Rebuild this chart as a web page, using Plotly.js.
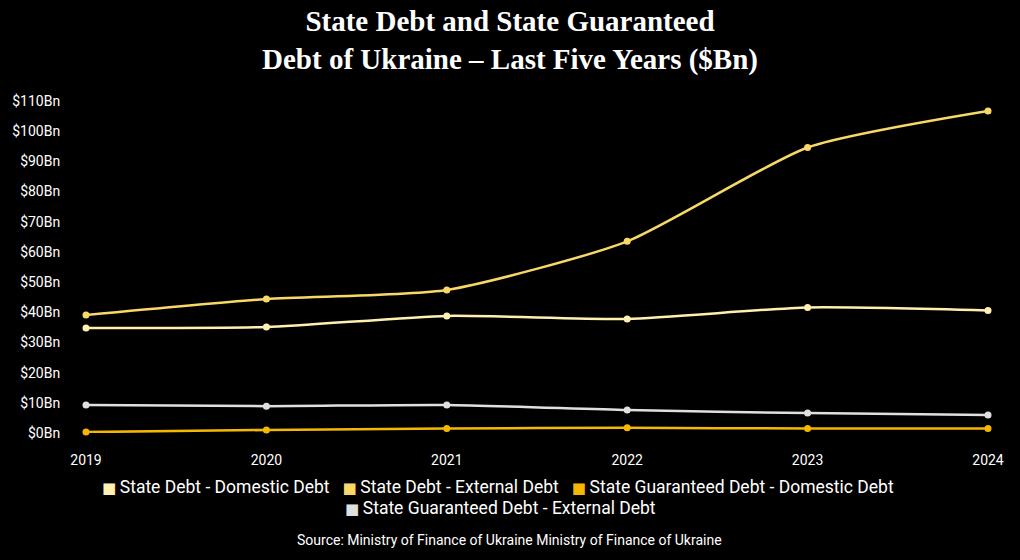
<!DOCTYPE html>
<html>
<head>
<meta charset="utf-8">
<script src="https://cdn.plot.ly/plotly-3.0.1.min.js"></script>
<style>
html,body{margin:0;padding:0;background:#000;}
#chart{width:1020px;height:560px;}
</style>
</head>
<body>
<div id="chart"></div>
<script>
const years = [2019, 2020, 2021, 2022, 2023, 2024];
const seriesNames = [
  "State Debt - Domestic Debt",
  "State Debt - External Debt",
  "State Guaranteed Debt - Domestic Debt",
  "State Guaranteed Debt - External Debt"
];
const domesticDebt = [34.8, 35.1, 38.8, 37.8, 41.6, 40.6];
const externalDebt = [39.1, 44.4, 47.4, 63.5, 94.6, 106.7];
const guarDomestic = [0.3, 1.0, 1.5, 1.7, 1.5, 1.5];
const guarExternal = [9.3, 8.9, 9.3, 7.6, 6.6, 6.0];
const yTickVals = [0, 10, 20, 30, 40, 50, 60, 70, 80, 90, 100, 110];
const yTickText = ["$0Bn","$10Bn","$20Bn","$30Bn","$40Bn","$50Bn","$60Bn","$70Bn","$80Bn","$90Bn","$100Bn","$110Bn"];
const colors = ["#fdf0b0", "#f8d866", "#f5b700", "#e0e0e0"];
const seriesValues = [domesticDebt, externalDebt, guarDomestic, guarExternal];

const order = [3, 2, 0, 1];
const traces = order.map(i => ({
  x: years,
  y: seriesValues[i],
  name: seriesNames[i],
  type: "scatter",
  mode: "lines+markers",
  line: {color: colors[i], width: 2.5, shape: "spline", smoothing: 0.6},
  marker: {color: colors[i], size: 7},
  cliponaxis: false,
  showlegend: false
}));

const font = "Roboto, 'Liberation Sans', sans-serif";
const legendRows = [[0, 1, 2], [3]];
const item = i => '<span style="color:' + colors[i] + ';font-size:15px;font-family:\'DejaVu Sans\'">■</span>\u2009' + seriesNames[i];
const annotations = [];
annotations.push({
  xref: "paper", yref: "paper", x: 0.457, y: -0.163, yanchor: "middle", xanchor: "center",
  showarrow: false, font: {family: font, size: 17.5, color: "#ffffff"},
  text: legendRows[0].map(item).join("\u00a0\u00a0\u00a0")
});
annotations.push({
  xref: "paper", yref: "paper", x: 0.285, y: -0.225, yanchor: "middle", xanchor: "left",
  showarrow: false, font: {family: font, size: 17.5, color: "#ffffff"},
  text: legendRows[1].map(item).join("\u00a0\u00a0\u00a0")
});
annotations.push({
  xref: "paper", yref: "paper", x: 0.470, y: -0.322, yanchor: "middle", xanchor: "center",
  showarrow: false, font: {family: font, size: 14, color: "#ffffff"},
  text: "Source: Ministry of Finance of Ukraine Ministry of Finance of Ukraine"
});

const layout = {
  width: 1020, height: 560,
  paper_bgcolor: "#000000", plot_bgcolor: "#000000",
  margin: {l: 86, r: 32, t: 101, b: 127},
  title: {
    text: "State Debt and State Guaranteed<br>Debt of Ukraine – Last Five Years ($Bn)",
    font: {family: "'Liberation Serif', serif", size: 29, color: "#ffffff", weight: 700},
    x: 0.5, xanchor: "center", xref: "container", yref: "container", y: 0.945, yanchor: "middle"
  },
  xaxis: {
    range: [2019, 2024], tickvals: years, ticktext: years.map(String),
    showgrid: false, zeroline: false, showline: false,
    tickfont: {family: font, size: 14, color: "#ffffff"},
    ticks: "outside", ticklen: 14, tickcolor: "rgba(0,0,0,0)"
  },
  yaxis: {
    range: [0, 110], tickvals: yTickVals, ticktext: yTickText,
    showgrid: false, zeroline: false, showline: false,
    tickfont: {family: font, size: 14, color: "#ffffff"},
    ticks: "outside", ticklen: 22, tickcolor: "rgba(0,0,0,0)"
  },
  showlegend: false,
  annotations: annotations
};

Plotly.newPlot("chart", traces, layout, {displayModeBar: false, staticPlot: true});
</script>
</body>
</html>
